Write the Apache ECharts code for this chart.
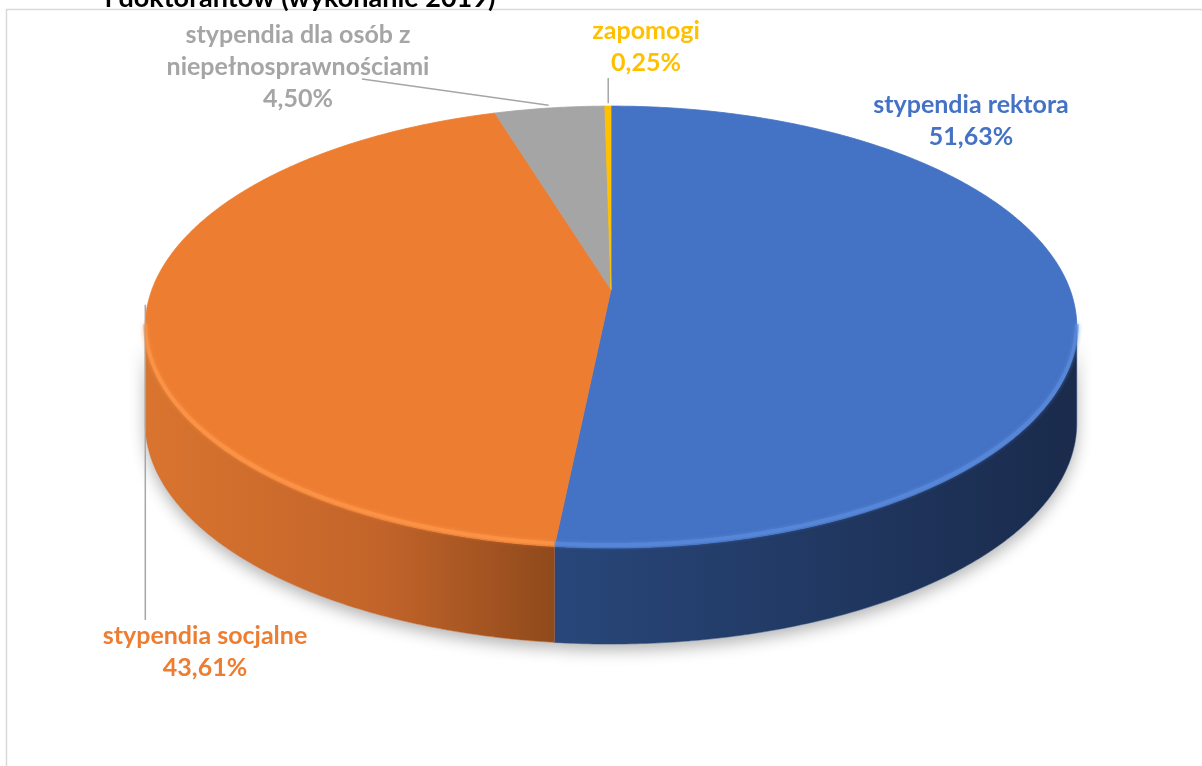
<!DOCTYPE html>
<html>
<head>
<meta charset="utf-8">
<script src="https://cdn.jsdelivr.net/npm/echarts@6/dist/echarts.min.js"></script>
<style>
  html, body { margin: 0; padding: 0; background: #fff; }
  #chart { width: 1202px; height: 766px; }
</style>
</head>
<body>
<div id="chart"></div>
<script>
const categories = ['stypendia rektora', 'stypendia socjalne', 'stypendia dla osób z\nniepełnosprawnościami', 'zapomogi'];
const shares = [51.63, 43.61, 4.50, 0.25];
const titleText = 'i doktorantów (wykonanie 2019)';

const topColors = ['#4472c4', '#ed7d31', '#a5a5a5', '#ffc000'];
const rimColors = ['#5d8ee0', '#ff9a4d', '#c4c4c4', '#ffd65a'];
const sideShades = [
  [[0, '#3a64ab'], [0.45, '#284679'], [1, '#1a2b4c']],
  [[0, '#d9742f'], [0.25, '#c2642a'], [0.45, '#8c481b'], [1, '#5a2e10']],
  [[0, '#8a8a8a'], [1, '#5a5a5a']],
  [[0, '#d9a200'], [1, '#9a7300']]
];

// tilted disc with a bit of perspective (back edge smaller), px
const pie = { cx: 611, cy: 289.5, r: 459, ry: 214.6, depth: 96, persp: 0.17 };

// labels sit where Excel put them
const labelAt = [[971, 121], [205, 652], [298, 67], [646, 47]];
const leaderFrom = [null, [null, 620], [362, 79], [null, 78]];
const leaderAngle = [null, 266, 351, 359.6];
const leaderReach = [1, 1.005, 1.015, 1.015];

const total = shares.reduce((a, b) => a + b, 0);
const starts = [];
shares.reduce((acc, v, i) => { starts[i] = acc; return acc + v; }, 0);

function pt(deg, dy, k) {
  const a = deg * Math.PI / 180;
  const s = (k || 1) / (1 + pie.persp * Math.cos(a));
  return [pie.cx + pie.r * s * Math.sin(a), pie.cy - pie.ry * s * Math.cos(a) + (dy || 0)];
}

function arc(a0, a1, dy) {
  const n = Math.max(2, Math.ceil(Math.abs(a1 - a0) / 0.5));
  const pts = [];
  for (let i = 0; i <= n; i++) {
    pts.push(pt(a0 + (a1 - a0) * i / n, dy));
  }
  return pts;
}

function fmt(v) {
  return v.toFixed(2).replace('.', ',') + '%';
}

// silhouette of the wall: where the projected rim is widest
const edge = Math.acos(-pie.persp) * 180 / Math.PI;

function renderItem(params, api) {
  const i = params.dataIndex;
  const a0 = api.value(1) / total * 360;
  const a1 = (api.value(1) + api.value(0)) / total * 360;
  const children = [];

  const s = Math.max(a0, edge);
  const e = Math.min(a1, 360 - edge);
  if (e > s) {
    const wall = arc(s, e, 0).concat(arc(e, s, pie.depth));
    children.push({
      type: 'polygon', z2: 0,
      shape: { points: wall },
      style: { fill: '#fff', shadowBlur: 16, shadowColor: 'rgba(0,0,0,0.3)', shadowOffsetY: 6 }
    });
    children.push({
      type: 'polygon', z2: 1,
      shape: { points: wall },
      style: {
        fill: {
          type: 'linear', global: true,
          x: pie.cx - pie.r, y: 0, x2: pie.cx + pie.r, y2: 0,
          colorStops: sideShades[i].map(([o, c]) => ({ offset: o, color: c }))
        },
        stroke: sideShades[i][1][1], lineWidth: 0.5
      }
    });
  }

  children.push({
    type: 'polygon', z2: 2,
    shape: { points: [[pie.cx, pie.cy]].concat(arc(a0, a1, 0)) },
    style: { fill: topColors[i], stroke: topColors[i], lineWidth: 0.8 }
  });

  if (e > s) {
    children.push({
      type: 'polyline', z2: 3,
      shape: { points: arc(s, e, -3) },
      style: { stroke: rimColors[i], lineWidth: 4, fill: null, opacity: 0.6, shadowBlur: 4, shadowColor: rimColors[i] }
    });
  }

  if (leaderFrom[i]) {
    const end = pt(leaderAngle[i], 0, leaderReach[i]);
    const from = [leaderFrom[i][0] == null ? end[0] : leaderFrom[i][0], leaderFrom[i][1]];
    children.push({
      type: 'polyline', z2: 4,
      shape: { points: [from, end] },
      style: { stroke: '#a6a6a6', lineWidth: 1.5, fill: null }
    });
  }

  children.push({
    type: 'text', z2: 5,
    style: {
      text: categories[i] + '\n' + fmt(api.value(0)),
      x: labelAt[i][0], y: labelAt[i][1],
      align: 'center', verticalAlign: 'middle',
      fill: topColors[i],
      font: 'bold 25px Lato',
      lineHeight: 32
    }
  });

  return { type: 'group', children: children };
}

const chart = echarts.init(document.getElementById('chart'));
chart.setOption({
  animation: false,
  title: {
    text: titleText,
    left: 100,
    top: -20,
    textStyle: { fontFamily: 'Lato', fontSize: 27, fontWeight: 'bold', color: '#000' }
  },
  graphic: [{
    type: 'rect', silent: true, z: -1,
    shape: { x: 6.5, y: 9.5, width: 1300, height: 800 },
    style: { fill: 'none', stroke: '#d9d9d9', lineWidth: 1.5 }
  }],
  series: [{
    type: 'custom',
    coordinateSystem: 'none',
    renderItem: renderItem,
    data: shares.map((v, i) => ({ name: categories[i], value: [v, starts[i]] }))
  }]
});
</script>
</body>
</html>
